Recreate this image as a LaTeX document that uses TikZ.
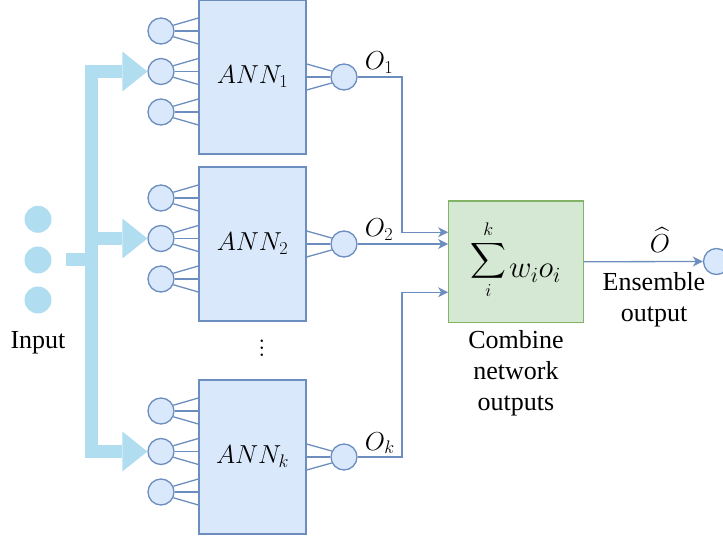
\RequirePackage{fix-cm}
\documentclass[tikz,border=0pt]{standalone}
\usepackage{exscale}
\usepackage[no-math]{fontspec}
\setmainfont{Liberation Serif}
\usetikzlibrary{arrows.meta,calc}
\definecolor{annfill}{HTML}{DAE8FC}
\definecolor{annline}{HTML}{6C8EBF}
\definecolor{sumfill}{HTML}{D5E8D4}
\definecolor{sumline}{HTML}{82B366}
\definecolor{busblue}{HTML}{B1DDF0}
\newcommand\myvdots{\vbox{\baselineskip=6.8pt\lineskiplimit=-20pt\hbox{$.$}\hbox{$.$}\hbox{$.$}}}
\begin{document}
\begin{tikzpicture}[x=1pt,y=-1pt,
  font=\fontsize{26}{31.2}\selectfont,
  neuron/.style={circle,draw=annline,fill=annfill,line width=1.3pt,minimum size=26pt,inner sep=0pt},
  dotnode/.style={circle,fill=busblue,minimum size=27pt,inner sep=0pt},
  annbox/.style={rectangle,draw=annline,fill=annfill,line width=1.3pt,minimum width=107pt,minimum height=154pt,inner sep=0pt},
  fan/.style={draw=annline,line width=1.3pt},
  conn/.style={draw=annline,line width=1.3pt,-{Stealth[length=10pt,width=10pt,inset=3pt]}},
  bus/.style={draw=busblue,line width=13.3pt,-{Triangle[length=25pt,width=40pt,line width=0pt]}},
  lab/.style={inner sep=0pt}]
\useasboundingbox (0,0) rectangle (723,537);
\clip (0,0) rectangle (723,537);

% networks
\foreach \n/\off/\s in {1/0/1,2/167/2,k/380/k}{
  \node[annbox] (box\n) at (252.5,77+\off) {$ANN_{\s}$};
  \foreach \c/\dy in {a/31,b/71.5,c/112}{
    \node[neuron] (i\n\c) at (161,\dy+\off) {};
    \draw[fan] (i\n\c.25) -- ($(i\n\c.east -| box\n.west)+(0,-13)$);
    \draw[fan] (i\n\c.east) -- (i\n\c.east -| box\n.west);
    \draw[fan] (i\n\c.-25) -- ($(i\n\c.east -| box\n.west)+(0,13)$);
  }
  \node[neuron] (o\n) at (344,77+\off) {};
  \draw[fan] ($(o\n.west -| box\n.east)+(0,-13)$) -- (o\n.154);
  \draw[fan] (o\n.west -| box\n.east) -- (o\n.west);
  \draw[fan] ($(o\n.west -| box\n.east)+(0,13)$) -- (o\n.206);
  \node[lab,anchor=base west] (O\n) at ($(o\n.east)+(7,-7)$) {$O_{\s}$};
}

% combiner
\node[draw=sumline,fill=sumfill,line width=1.3pt,minimum width=134.5pt,minimum height=121.5pt,inner sep=0pt] (sum) at (516,261.75) {};
\node[lab] (sumsym) at (488.3,260) {$\displaystyle\sum_{i}^{k}$};
\node[lab,anchor=base west,font=\fontsize{31}{37}\selectfont] (wo) at ($(sumsym.east |- sum.center)+(2.5,16)$) {$w_i o_i$};
\node[align=center] (comb) at (516,373) {Combine\\network\\outputs};

\draw[conn] (o1.east) -| ($(sum.west)+(-46,-29.5)$) -- ($(sum.west)+(0,-29.5)$);
\draw[conn] (o2.east) -- (o2.east -| sum.west);
\draw[conn] (ok.east) -| ($(sum.west)+(-46,30.5)$) -- ($(sum.west)+(0,30.5)$);

% output
\node[neuron] (fin) at (716.5,261.5) {};
\draw[conn] (sum.east) -- (fin.west);
\node (ohat) at (660,240) {$\widehat{O}$};
\node[align=center] (ens) at (654,300) {Ensemble\\output};

% input
\node[dotnode] (d1) at (38,219.3) {};
\node[dotnode] (d2) at (38,260) {};
\node[dotnode] (d3) at (38,300) {};
\node (inlab) at (38,343) {Input};
\coordinate (busc) at (91.7,259.7);
\coordinate (stub) at (65.7,259.7);
\draw[bus,-] (stub) -- (busc);
\draw[bus] (busc) |- (i1b.west);
\draw[bus] (busc) |- (i2b.west);
\draw[bus] (busc) |- (ikb.west);

\node[lab] (vd) at (262,348.5) {\myvdots};
\end{tikzpicture}
\end{document}
